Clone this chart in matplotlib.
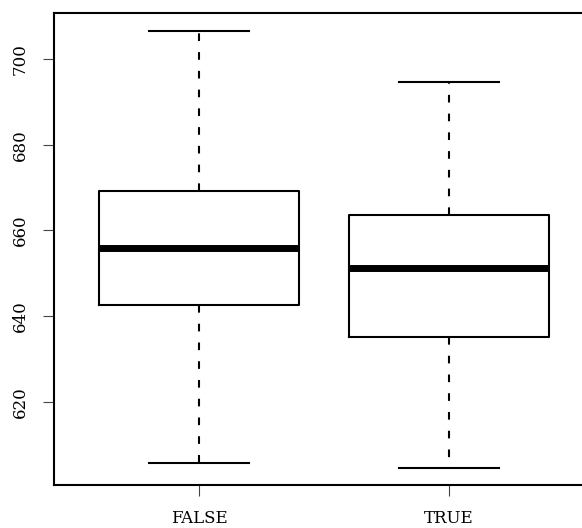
import matplotlib
matplotlib.use("Agg")
import matplotlib.pyplot as plt

# values
groups = ["FALSE", "TRUE"]
whisker_lo = [605.7, 604.5]
q1 = [642.7, 635.2]
median = [656.0, 651.3]
q3 = [669.2, 663.5]
whisker_hi = [706.6, 694.6]
y_ticks = [620, 640, 660, 680, 700]

plt.rcParams["font.family"] = ["DejaVu Serif"]
plt.rcParams["lines.scale_dashes"] = False

fig = plt.figure(figsize=(5.82, 5.28), dpi=100)
# the R device crops the right side of the frame, so the axes run past the figure edge
ax = fig.add_axes([54 / 582, 43 / 528, 540 / 582, 471.7 / 528])

stats = [dict(label=g, whislo=lo, q1=a, med=m, q3=b, whishi=hi)
         for g, lo, a, m, b, hi in zip(groups, whisker_lo, q1, median, q3, whisker_hi)]
lw = 1.5
ax.bxp(stats, positions=[1, 2], widths=0.8, showfliers=False, capwidths=0.4,
       boxprops=dict(color="black", linewidth=lw),
       whiskerprops=dict(color="black", linewidth=lw, linestyle=(0, (5.5, 8.0))),
       capprops=dict(color="black", linewidth=lw),
       medianprops=dict(color="black", linewidth=5.0, solid_capstyle="butt"))

ax.set_xlim(0.42, 2.58)
ax.set_ylim(600.64, 710.66)
ax.set_yticks(y_ticks)
ax.set_yticklabels([str(t) for t in y_ticks], rotation=90, va="center")
ax.set_xticks([1, 2])
ax.set_xticklabels(groups)
ax.tick_params(axis="both", length=8, width=0.8, color="#444444", labelsize=12)
ax.tick_params(axis="x", pad=10)
ax.tick_params(axis="y", pad=10)
for s in ax.spines.values():
    s.set_linewidth(1.5)

fig.savefig("out.png", dpi=100)
